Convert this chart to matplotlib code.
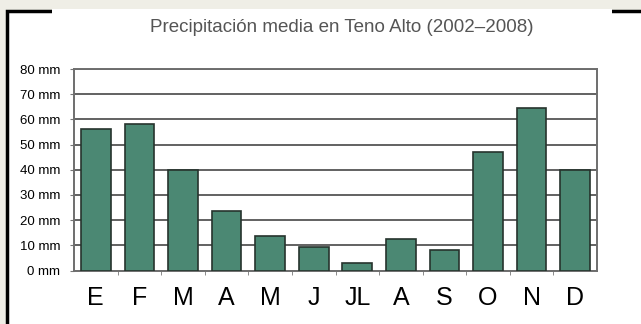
import matplotlib
matplotlib.use("Agg")
import matplotlib.pyplot as plt
from matplotlib.patches import Rectangle

# datos mensuales de precipitación (mm)
meses = ["E", "F", "M", "A", "M", "J", "JL", "A", "S", "O", "N", "D"]
precip = [56, 58, 40, 23.5, 13.5, 9.5, 3, 12.5, 8, 47, 64.5, 40]
yticks = [0, 10, 20, 30, 40, 50, 60, 70, 80]

W, H = 641, 324
fig = plt.figure(figsize=(W / 100, H / 100), dpi=100, facecolor="#efeee6")


def fx(px):
    return px / W


def fy(py):
    return 1 - py / H


# panel blanco con borde negro
fig.patches.append(Rectangle((fx(7), -0.1), 1.0, fy(11) + 0.1,
                             transform=fig.transFigure, facecolor="white",
                             edgecolor="black", lw=2.5, zorder=0))
# hueco blanco del título sobre el borde superior
fig.patches.append(Rectangle((fx(52), fy(14)), fx(560), 4.6 / H,
                             transform=fig.transFigure, facecolor="white",
                             edgecolor="none", zorder=1))

ax = fig.add_axes([fx(74), fy(270.5), fx(523), 201.5 / H])
ax.set_zorder(2)
ax.set_facecolor("white")

x = range(len(meses))
ax.bar(x, precip, width=0.68, color="#4b8873", edgecolor="#26332d",
       linewidth=1.2, zorder=3)

ax.set_xlim(-0.5, len(meses) - 0.5)
ax.set_ylim(0, 80)
ax.set_yticks(yticks)
ax.set_yticklabels([f"{v} mm" for v in yticks], fontsize=9.5,
                   family="Liberation Sans")
ax.yaxis.grid(True, color="#555555", lw=1.3, zorder=1)
ax.set_axisbelow(True)

ax.set_xticks(list(x))
ax.set_xticklabels(meses, fontsize=18, family="Liberation Sans")
ax.set_xticks([i + 0.5 for i in range(len(meses) - 1)], minor=True)
ax.tick_params(axis="x", which="major", length=0, pad=11)
ax.tick_params(axis="x", which="minor", length=3, color="#777777")
ax.tick_params(axis="y", length=3, color="#777777", pad=7)

for s in ax.spines.values():
    s.set_color("#6e6e6e")
    s.set_linewidth(1.4)

fig.text(fx(342), fy(28), "Precipitación media en Teno Alto (2002–2008)",
         ha="center", va="center", fontsize=13.5, color="#555555",
         family="Liberation Sans", zorder=3)

fig.savefig("out.png", dpi=100, facecolor=fig.get_facecolor())
